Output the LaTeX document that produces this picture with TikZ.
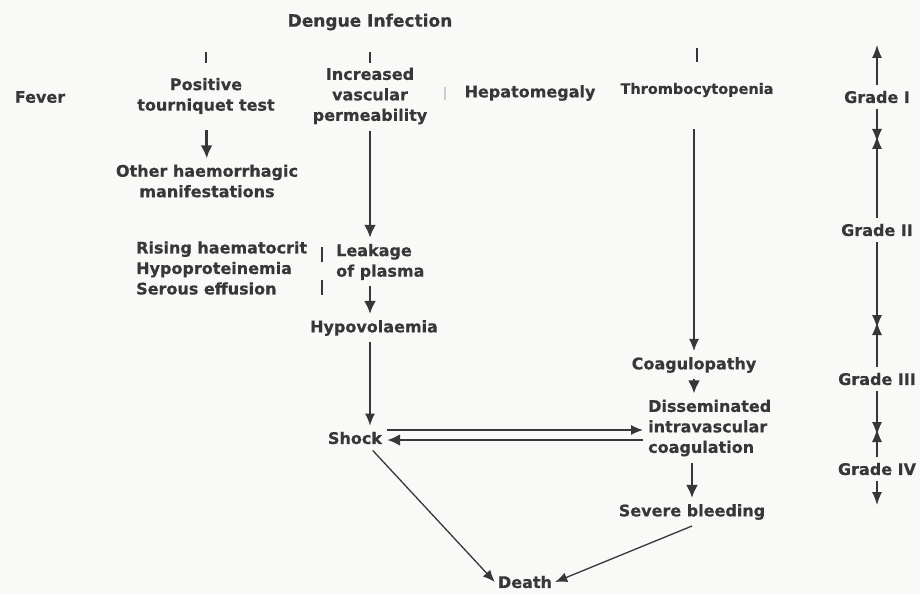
\documentclass[tikz,border=0pt]{standalone}
\usepackage{fontspec}
\setmainfont{DejaVu Sans}[BoldFeatures={FakeBold=0.5}]
\usetikzlibrary{arrows.meta}
\definecolor{ink}{RGB}{55,55,55}
\definecolor{paper}{RGB}{249,249,247}

\begin{document}
\begin{tikzpicture}[
  x=1bp, y=-1bp,
  txt/.style={
    text=ink, inner xsep=5bp, inner ysep=6bp, align=center,
    font=\bfseries\fontsize{16bp}{20.5bp}\selectfont
  },
  grade/.style={txt},
  thinarrow/.style={draw=ink, line width=1.3bp, -{Latex[length=12bp,width=10bp]}},
  thickarrow/.style={draw=ink, line width=2.8bp, -{Latex[length=13bp,width=12bp]}},
  gradearrow/.style={thinarrow, -{Latex[length=13bp,width=10bp]}},
  tickmark/.style={draw=ink, line width=1.3bp}
  ]
  \fill[paper] (0,0) rectangle (920,594);
  \useasboundingbox (0,0) rectangle (920,594);

  \node [txt, font=\bfseries\fontsize{17bp}{20bp}\selectfont] (dengue) at (370,22) {Dengue Infection};
  \node [txt] (fever) at (40,97) {Fever};
  \node [txt] (ptt) at (206,96) {Positive\\tourniquet test};
  \node [txt] (ivp) at (370,96) {Increased\\vascular\\permeability};
  \node [txt] (hepato) at (530,93) {Hepatomegaly};
  \node [txt, font=\bfseries\fontsize{14.5bp}{20bp}\selectfont] (thromb) at (697,90) {Thrombocytopenia};
  \node [txt] (other) at (207,181) {Other haemorrhagic\\manifestations};
  \node [txt, align=left, anchor=west] (rising) at (131,268) {Rising haematocrit\\Hypoproteinemia\\Serous effusion};
  \node [txt, align=left, anchor=west] (leakage) at (331,262) {Leakage\\of plasma};
  \node [txt] (hypo) at (374,328) {Hypovolaemia};
  \node [txt] (shock) at (355,438) {Shock};
  \node [txt] (coag) at (694,365) {Coagulopathy};
  \node [txt, align=left, anchor=west] (dic) at (643,428) {Disseminated\\intravascular\\coagulation};
  \node [txt] (sb) at (692,512) {Severe bleeding};
  \node [txt, inner xsep=3bp] (death) at (525,582) {Death};

  \node [grade] (g1) at (877,97) {Grade I};
  \node [grade] (g2) at (877,230) {Grade II};
  \node [grade] (g3) at (877,379) {Grade III};
  \node [grade] (g4) at (877,469) {Grade IV};
  \coordinate (gtop) at (877,45);
  \coordinate (m12) at (877,139);
  \coordinate (m23) at (877,325);
  \coordinate (m34) at (877,432);
  \coordinate (gbot) at (877,505);

  \foreach \x/\ya/\yb in {206/52/63, 370/52/63, 697/48/62, 322/247/262, 322/280/295}
    \draw [tickmark] (\x,\ya) -- (\x,\yb);
  \draw [tickmark, draw=ink!25] (445,87) -- (445,100);

  \draw [thickarrow, shorten <=10bp] (ptt) -- (other);
  \draw [thickarrow] (ivp) -- (ivp |- leakage.north);
  \draw [thickarrow] (leakage.south -| ivp) -- (hypo.north -| ivp);
  \draw [thinarrow] (hypo.south -| ivp) -- (shock.north -| ivp);
  \draw [thinarrow, shorten <=26bp] (thromb.south -| coag) -- (coag);
  \draw [thickarrow] (coag) -- (coag |- dic.north);
  \draw [thickarrow] (dic.south -| sb) -- (sb);
  \draw [thinarrow] ([yshift=8bp]shock.east) -- ([yshift=8bp]shock.east -| dic.west);
  \draw [thickarrow] ([yshift=-2bp]shock.east -| dic.west) -- ([yshift=-2bp]shock.east);
  \draw [thinarrow] (shock.-35) -- (death.west);
  \draw [thinarrow] (sb.south) -- (death.east);

  \draw [gradearrow] (g1) -- (gtop);
  \draw [gradearrow, shorten >=-3bp] (g1) -- (m12);
  \draw [gradearrow, shorten >=-3bp] (g2) -- (m12);
  \draw [gradearrow, shorten >=-3bp] (g2) -- (m23);
  \draw [gradearrow, shorten >=-3bp] (g3) -- (m23);
  \draw [gradearrow, shorten >=-3bp] (g3) -- (m34);
  \draw [gradearrow, shorten >=-3bp] (g4) -- (m34);
  \draw [gradearrow] (g4) -- (gbot);
\end{tikzpicture}
\end{document}
